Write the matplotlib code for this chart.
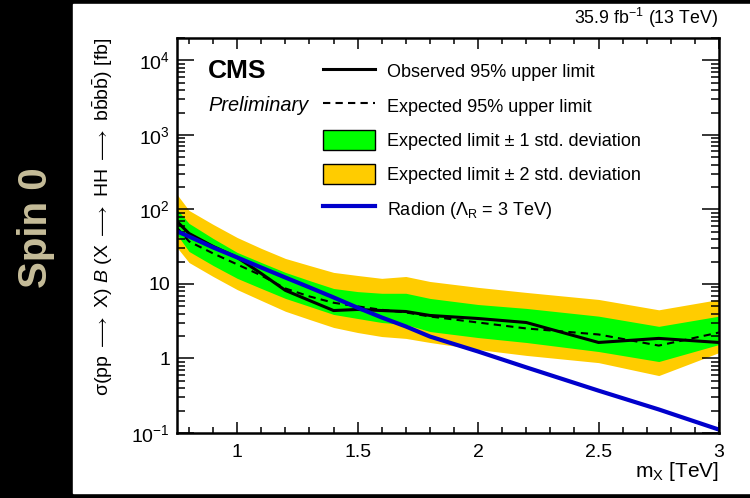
import matplotlib.pyplot as plt
from matplotlib.patches import Patch, Rectangle
from matplotlib.lines import Line2D
from matplotlib.ticker import FixedLocator, LogLocator, MultipleLocator, NullFormatter

plt.rcParams['font.family'] = ['Liberation Sans', 'DejaVu Sans']
plt.rcParams['mathtext.fontset'] = 'custom'
plt.rcParams['mathtext.rm'] = 'Liberation Sans'
plt.rcParams['mathtext.it'] = 'Liberation Sans:italic'
plt.rcParams['mathtext.bf'] = 'Liberation Sans:bold'
plt.rcParams['mathtext.fallback'] = 'stix'

# Resonance mass [TeV] and limits [fb]
mass = [0.75, 0.8, 0.9, 1.0, 1.1, 1.2, 1.3, 1.4, 1.5, 1.6, 1.7, 1.8, 2.0, 2.2, 2.5, 2.75, 3.0]
observed = [69, 47.6, 31.9, 22.7, 13.8, 8.2, 6.0, 4.4, 4.55, 4.4, 4.27, 3.78, 3.44, 3.04, 1.64, 1.86, 1.64]
expected = [57, 37.2, 25.7, 18.3, 13.0, 8.7, 6.8, 5.6, 5.0, 4.5, 4.15, 3.66, 3.04, 2.53, 2.10, 1.49, 2.23]
one_sig_up = [100, 65, 40.8, 26.5, 19.4, 14.3, 11.1, 8.7, 7.9, 7.5, 7.5, 6.4, 5.3, 4.7, 3.7, 2.7, 3.7]
one_sig_dn = [46, 27.3, 17.7, 11.9, 8.7, 6.4, 5.0, 3.9, 3.44, 3.04, 2.86, 2.30, 1.91, 1.64, 1.24, 0.91, 1.54]
two_sig_up = [159, 97, 63, 42, 30, 22, 17.7, 14.3, 13.0, 11.9, 12.6, 10.8, 9.0, 7.7, 6.2, 4.5, 6.2]
two_sig_dn = [30.9, 19.4, 12.6, 8.4, 6.0, 4.3, 3.34, 2.61, 2.23, 1.97, 1.86, 1.64, 1.32, 1.10, 0.88, 0.59, 1.20]
radion = [50.7, 43.4, 30.9, 22.7, 16.6, 12.2, 9.0, 6.6, 4.8, 3.55, 2.69, 1.97, 1.24, 0.76, 0.37, 0.207, 0.111]

x_ticks = [1, 1.5, 2, 2.5, 3]
x_tick_labels = ['1', '1.5', '2', '2.5', '3']
y_ticks = [0.1, 1, 10, 100, 1000, 10000]
y_tick_labels = ['$10^{-1}$', '1', '10', '$10^{2}$', '$10^{3}$', '$10^{4}$']

fig = plt.figure(figsize=(7.5, 4.98), dpi=100, facecolor='black')
# white canvas next to the black side strip
fig.patches.append(Rectangle((73 / 750, 5 / 498), 677 / 750, 489 / 498,
                             transform=fig.transFigure, color='white', zorder=-1))
fig.text(36 / 750, 1 - 228 / 498, 'Spin 0', rotation=90, ha='center', va='center',
         color='#c6bd99', fontsize=29, fontweight='bold')

ax = fig.add_axes([177 / 750, 1 - 433 / 498, 542 / 750, 395 / 498])
ax.set_facecolor('white')

# bands, limits and the radion prediction
ax.fill_between(mass, two_sig_dn, two_sig_up, color='#ffcc00', lw=0)
ax.fill_between(mass, one_sig_dn, one_sig_up, color='#00ff00', lw=0)
ax.plot(mass, expected, color='black', lw=1.5, ls='--', dashes=(3.5, 2.5))
ax.plot(mass, observed, color='black', lw=2.2)
ax.plot(mass, radion, color='#0000cc', lw=3)

ax.set_yscale('log')
ax.set_xlim(0.75, 3.0)
ax.set_ylim(0.1, 2e4)

ax.xaxis.set_major_locator(FixedLocator(x_ticks))
ax.set_xticklabels(x_tick_labels)
ax.xaxis.set_minor_locator(MultipleLocator(0.1))
ax.yaxis.set_major_locator(FixedLocator(y_ticks))
ax.set_yticklabels(y_tick_labels)
ax.yaxis.set_minor_locator(LogLocator(base=10, subs=range(2, 10)))
ax.yaxis.set_minor_formatter(NullFormatter())

ax.tick_params(which='both', direction='in', top=True, right=True, width=1.1, labelsize=14)
ax.tick_params(axis='y', which='major', length=12, pad=5)
ax.tick_params(axis='y', which='minor', length=6)
ax.tick_params(axis='x', which='major', length=8, pad=8)
ax.tick_params(axis='x', which='minor', length=4)
for s in ax.spines.values():
    s.set_linewidth(1.8)

ax.set_xlabel('m$_{\\mathrm{X}}$ [TeV]', fontsize=15, loc='right')
ax.xaxis.set_label_coords(1.0, -0.068)
ax.set_ylabel('σ(pp $\\longrightarrow$ X) $\\mathit{B}$ (X $\\longrightarrow$ HH $\\longrightarrow$ '
              'b$\\bar{\\mathrm{b}}$b$\\bar{\\mathrm{b}}$) [fb]', fontsize=14, loc='top')
ax.yaxis.set_label_coords(-0.114, 1.0)

# legend
handles = [
    Line2D([], [], color='black', lw=2.2),
    Line2D([], [], color='black', lw=1.5, ls='--', dashes=(3.5, 2.5)),
    Patch(facecolor='#00ff00', edgecolor='black', lw=1),
    Patch(facecolor='#ffcc00', edgecolor='black', lw=1),
    Line2D([], [], color='#0000cc', lw=3),
]
labels = [
    'Observed 95% upper limit',
    'Expected 95% upper limit',
    'Expected limit ± 1 std. deviation',
    'Expected limit ± 2 std. deviation',
    'Radion (Λ$_{\\mathrm{R}}$ = 3 TeV)',
]
fig.legend(handles, labels, loc='upper left', bbox_to_anchor=(323 / 750, 1 - 61 / 498),
           frameon=False, borderpad=0, borderaxespad=0, handlelength=2.9, handleheight=1.35,
           handletextpad=0.65, labelspacing=0.78, fontsize=13)

fig.text(208 / 750, 1 - 78 / 498, 'CMS', fontsize=19, fontweight='bold', va='baseline')
fig.text(208 / 750, 1 - 111 / 498, 'Preliminary', fontsize=14.4, style='italic', va='baseline')
fig.text(718 / 750, 1 - 24 / 498, '35.9 fb$^{-1}$ (13 TeV)', fontsize=12.8, ha='right', va='baseline')

fig.savefig('out.png', dpi=100, facecolor=fig.get_facecolor())
